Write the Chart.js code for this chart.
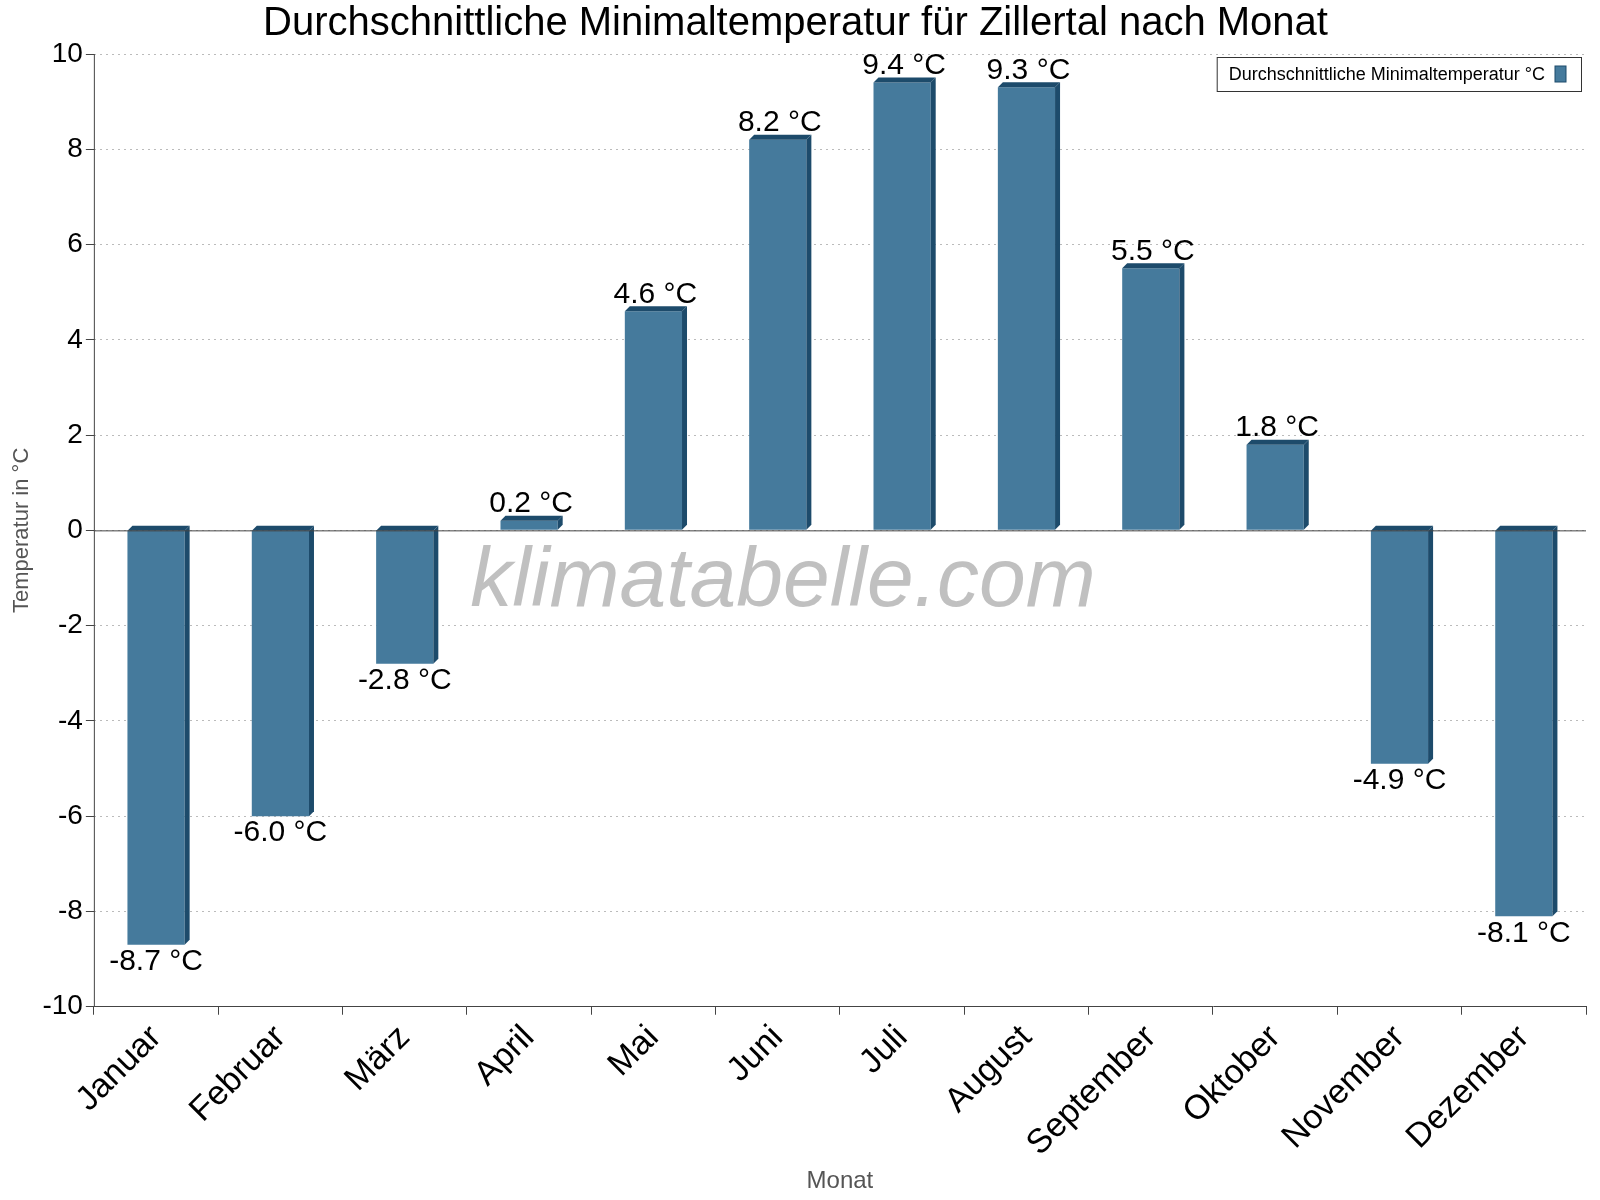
<!DOCTYPE html>
<html><head><meta charset="utf-8">
<script src="https://cdn.jsdelivr.net/npm/chart.js@4"></script>
<style>body{margin:0;background:#fff}#w{width:1600px;height:1200px}</style>
</head><body><div id="w"><canvas id="c"></canvas></div>
<script>
const months=["Januar","Februar","März","April","Mai","Juni","Juli","August","September","Oktober","November","Dezember"];
const minTemp=[-8.7,-6.0,-2.8,0.2,4.6,8.2,9.4,9.3,5.5,1.8,-4.9,-8.1];
const yTicks=[-10,-8,-6,-4,-2,0,2,4,6,8,10];
const FONT="Arial, 'Liberation Sans', sans-serif";
const deco={id:'deco',
 afterDatasetsDraw(ch){
  const ctx=ch.ctx, meta=ch.getDatasetMeta(0), d=5;
  const a=ch.chartArea;
  ctx.save();ctx.fillStyle='rgba(150,150,150,0.6)';ctx.font='italic 84px '+FONT;ctx.textAlign='center';ctx.textBaseline='middle';
  ctx.fillText('klimatabelle.com',783,583);ctx.restore();
  meta.data.forEach((b,i)=>{
   const l=b.x-b.width/2, r=b.x+b.width/2, top=Math.min(b.y,b.base), bot=Math.max(b.y,b.base);
   ctx.fillStyle='#1d4b6b';
   ctx.beginPath();ctx.moveTo(r,top);ctx.lineTo(r+d,top-d);ctx.lineTo(r+d,bot-d);ctx.lineTo(r,bot);ctx.closePath();ctx.fill();
   ctx.beginPath();ctx.moveTo(l,top);ctx.lineTo(l+d,top-d);ctx.lineTo(r+d,top-d);ctx.lineTo(r,top);ctx.closePath();ctx.fill();
   ctx.fillStyle='#000';ctx.font='30px '+FONT;ctx.textAlign='center';
   const v=minTemp[i], t=v.toFixed(1)+' °C';
   if(v>=0){ctx.textBaseline='bottom';ctx.fillText(t,b.x+2,b.y-2);} else {ctx.textBaseline='top';ctx.fillText(t,b.x,b.y+2);}
  });
  const y0=ch.scales.y.getPixelForValue(0);
  ctx.strokeStyle='#444';ctx.lineWidth=1;ctx.setLineDash([]);
  ctx.beginPath();ctx.moveTo(a.left,y0+0.5);ctx.lineTo(a.right,y0+0.5);ctx.stroke();
  ctx.beginPath();ctx.moveTo(a.left+0.5,a.top);ctx.lineTo(a.left+0.5,a.bottom);ctx.stroke();
  ctx.font='18px '+FONT;ctx.textAlign='left';ctx.textBaseline='middle';
  const txt='Durchschnittliche Minimaltemperatur °C';const tw=ctx.measureText(txt).width;
  const bw=tw+48,bh=34,bx=a.right-5-bw,by=57;
  ctx.fillStyle='#fff';ctx.fillRect(bx,by,bw,bh);ctx.strokeStyle='#333';ctx.strokeRect(bx+0.5,by+0.5,bw,bh);
  ctx.fillStyle='#000';ctx.fillText(txt,bx+12,by+bh/2+1);
  ctx.fillStyle='#457a9c';ctx.fillRect(bx+tw+22,by+9,11,16);ctx.strokeStyle='#1d4b6b';ctx.strokeRect(bx+tw+22,by+9,11,16);
 }};
new Chart(document.getElementById('c'),{type:'bar',
 data:{labels:months,datasets:[{label:'Durchschnittliche Minimaltemperatur °C',data:minTemp,backgroundColor:'#457a9c',barPercentage:0.46,categoryPercentage:1}]},
 options:{responsive:true,maintainAspectRatio:false,animation:false,
  layout:{padding:{top:0,right:14,left:5,bottom:0}},
  plugins:{legend:{display:false},tooltip:{enabled:false},
   title:{display:true,text:'Durchschnittliche Minimaltemperatur für Zillertal nach Monat',font:{size:40,family:FONT,weight:'normal'},color:'#000',padding:{top:0,bottom:6}}},
  scales:{
   y:{min:-10,max:10,afterBuildTicks(s){s.ticks=yTicks.map(v=>({value:v}));},
    ticks:{font:{size:28,family:FONT},color:'#000'},
    grid:{color:'#bbb',drawTicks:true,tickLength:8,tickColor:'#444'},
    border:{display:false,dash:[2,4]},
    title:{display:true,text:'Temperatur in °C',font:{size:22,family:FONT},color:'#555'}},
   x:{offset:true,ticks:{font:{size:34,family:FONT},color:'#000',maxRotation:45,minRotation:45},
    grid:{display:true,drawOnChartArea:false,offset:true,tickLength:8,tickColor:'#444'},
    border:{color:'#444'},
    title:{display:true,text:'Monat',font:{size:24,family:FONT},color:'#555',padding:{top:0}}}
  }},
 plugins:[deco]});
</script></body></html>
